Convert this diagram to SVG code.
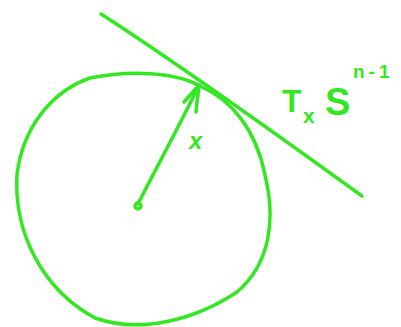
<svg xmlns="http://www.w3.org/2000/svg" width="401" height="327" viewBox="0 0 401 327">
<style>
.s{fill:none;stroke:#33e822;stroke-width:3.5;stroke-linecap:round;stroke-linejoin:round}
.t{fill:#33e822;font-family:"Liberation Sans",sans-serif;font-weight:bold}
</style>
<rect width="401" height="327" fill="#fff"/>
<g id="sphere">
<path class="s" d="M200,86 C175,72 130,70 90,78 C50,92 22,130 17,175 C14,230 40,288 95,318 C140,334 195,320 237,292 C270,264 276,220 265,175 C256,130 232,100 200,86"/>
<circle class="s" cx="138" cy="206" r="3"/>
</g>
<g id="tangent">
<path class="s" d="M101,14 C160,52 250,115 362,196"/>
</g>
<g id="connectors">
<path class="s" d="M138,204 C155,170 180,125 199,85"/>
<path class="s" d="M184,102 L199,85 L196,112"/>
</g>
<g id="labels">
<text class="t" x="189" y="149" font-size="24" font-style="italic">x</text>
<text class="t" x="282" y="112" font-size="32">T</text>
<text class="t" x="303" y="123" font-size="21">x</text>
<text class="t" x="325" y="115" font-size="38">S</text>
<text class="t" x="353" y="78" font-size="19" letter-spacing="4">n-1</text>
</g>
</svg>
